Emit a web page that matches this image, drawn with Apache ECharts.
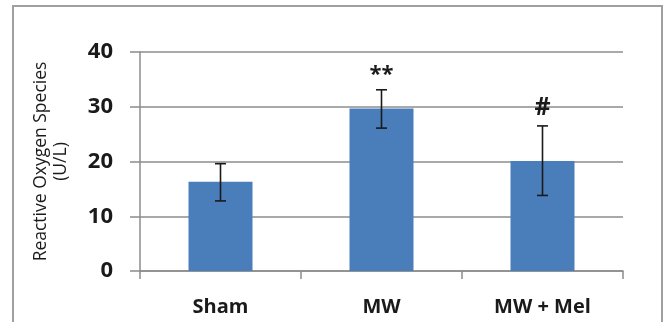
<!DOCTYPE html>
<html>
<head>
<meta charset="utf-8">
<script src="https://cdn.jsdelivr.net/npm/echarts@6/dist/echarts.min.js"></script>
<style>
html,body{margin:0;padding:0;background:#fff;}
#chart{width:667px;height:322px;}
</style>
</head>
<body>
<div id="chart"></div>
<script>
var categories = ['Sham', 'MW', 'MW + Mel'];
var meanValues = [16.3, 29.7, 20.1];
var errLow = [12.8, 26.1, 13.8];
var errHigh = [19.6, 33.1, 26.5];
var marks = ['', '**', '#'];
var yTicks = [0, 10, 20, 30, 40];

var chart = echarts.init(document.getElementById('chart'));
var FONT = '"Open Sans", sans-serif';

var errData = categories.map(function (c, i) { return [i, errLow[i], errHigh[i], marks[i]]; });

chart.setOption({
  backgroundColor: '#fff',
  animation: false,
  graphic: [{
    type: 'rect',
    shape: { x: 13, y: 6, width: 649, height: 340 },
    style: { fill: 'none', stroke: '#a0a0a0', lineWidth: 2 }
  }],
  grid: { left: 140, right: 44, top: 52, bottom: 51 },
  xAxis: {
    type: 'category',
    data: categories,
    axisLine: { lineStyle: { color: '#8c8c8c', width: 1.5 } },
    axisTick: { show: true, length: 8, alignWithLabel: false, lineStyle: { color: '#8c8c8c', width: 1.5 } },
    axisLabel: { color: '#1a1a1a', fontFamily: FONT, fontWeight: 'bold', fontSize: 20, margin: 26 }
  },
  yAxis: {
    type: 'value',
    min: yTicks[0],
    max: yTicks[yTicks.length - 1],
    interval: 10,
    name: 'Reactive Oxygen Species\n(U/L)',
    nameLocation: 'middle',
    nameGap: 69,
    nameTextStyle: { color: '#1a1a1a', fontFamily: FONT, fontSize: 17.5, lineHeight: 20 },
    axisLine: { show: true, lineStyle: { color: '#8c8c8c', width: 1.5 } },
    axisTick: { show: true, inside: false, length: 10, lineStyle: { color: '#8c8c8c', width: 1.5 } },
    axisLabel: { color: '#1a1a1a', fontFamily: FONT, fontWeight: 'bold', fontSize: 22, margin: 27 },
    splitLine: { show: true, lineStyle: { color: '#8c8c8c', width: 1.5 } }
  },
  series: [{
    type: 'bar',
    data: meanValues,
    barWidth: 64,
    itemStyle: { color: '#4a7ebb' },
    z: 2
  }, {
    type: 'custom',
    data: errData,
    z: 3,
    renderItem: function (params, api) {
      var x = api.value(0);
      var lo = api.coord([x, api.value(1)]);
      var hi = api.coord([x, api.value(2)]);
      var half = 5.5;
      var children = [
        { type: 'line', shape: { x1: hi[0], y1: hi[1], x2: lo[0], y2: lo[1] }, style: { stroke: '#1a1a1a', lineWidth: 1.6 } },
        { type: 'line', shape: { x1: hi[0] - half, y1: hi[1], x2: hi[0] + half, y2: hi[1] }, style: { stroke: '#1a1a1a', lineWidth: 1.6 } },
        { type: 'line', shape: { x1: lo[0] - half, y1: lo[1], x2: lo[0] + half, y2: lo[1] }, style: { stroke: '#1a1a1a', lineWidth: 1.6 } }
      ];
      var m = api.value(3);
      if (m) {
        var isHash = m === '#';
        children.push({
          type: 'text',
          style: {
            text: m, x: hi[0], y: hi[1] - (isHash ? 6 : 4),
            align: 'center', verticalAlign: 'bottom',
            fill: '#1a1a1a', font: 'bold ' + (isHash ? 25 : 22) + 'px "Open Sans", sans-serif'
          }
        });
      }
      return { type: 'group', children: children };
    }
  }]
});
</script>
</body>
</html>
